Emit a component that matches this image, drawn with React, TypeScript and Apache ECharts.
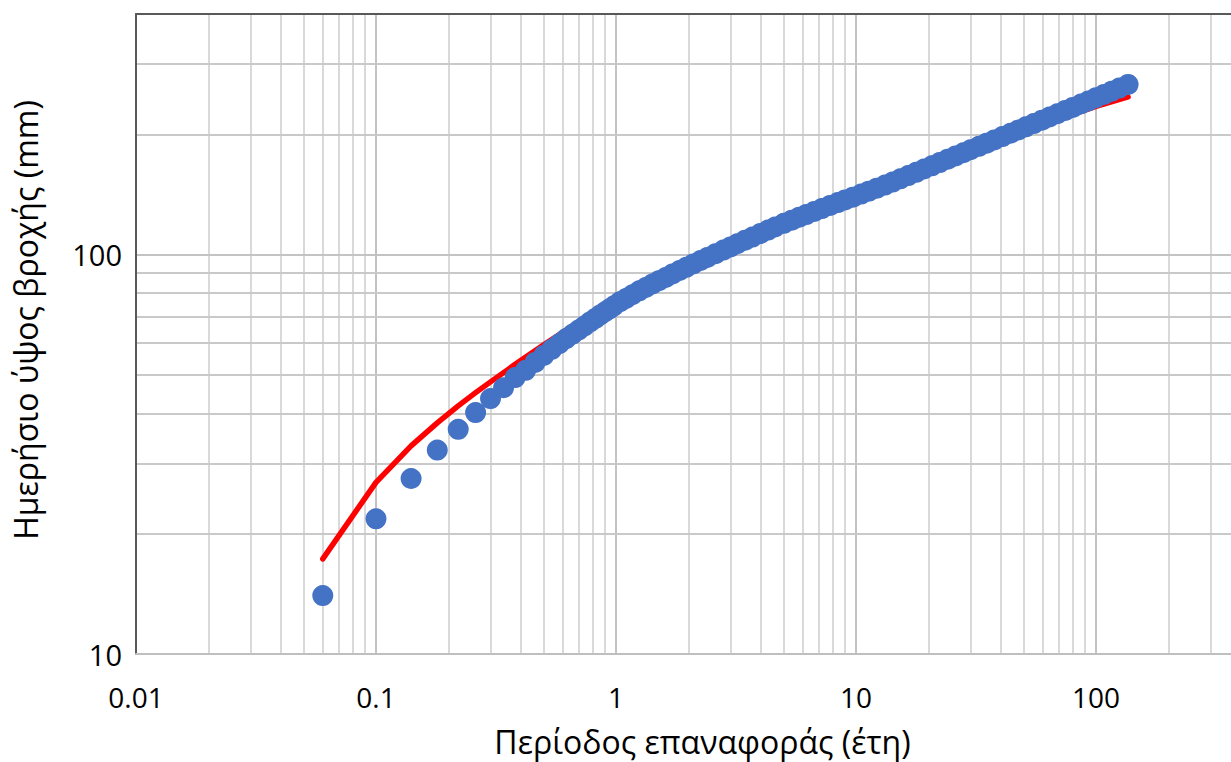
import React, { useEffect, useRef } from "react";
import * as echarts from "echarts";

// Observed daily rainfall (blue points): return period (years) and depth (mm)
const returnPeriods = [
  0.06, 0.1, 0.14, 0.18, 0.22, 0.26, 0.3, 0.34, 0.38, 0.42, 0.46, 0.5, 0.54, 0.58, 0.62, 0.66,
  0.7, 0.74, 0.78, 0.82, 0.86, 0.9, 0.94, 0.98, 1.04, 1.1, 1.17, 1.25, 1.33, 1.42, 1.51, 1.61,
  1.72, 1.84, 1.96, 2.1, 2.25, 2.4, 2.6, 2.8, 3.0, 3.2, 3.45, 3.7, 4.0, 4.3, 4.6, 5.0, 5.4, 5.8,
  6.2, 6.7, 7.2, 7.8, 8.4, 9.0, 9.7, 10.5, 11.3, 12.2, 13.2, 14.2, 15.3, 16.5, 17.8, 19.2, 20.7,
  22.3, 24.1, 26, 28, 30, 32.5, 35, 37.7, 40.7, 44, 47.5, 51, 55, 59.5, 64, 69, 74.5, 80, 86.5,
  93, 100, 108, 116, 125, 136,
];
const observedRainfall = [
  14.0, 21.8, 27.5, 32.4, 36.5, 40.2, 43.6, 46.4, 49.2, 51.3, 53.7, 55.9, 57.9, 59.8, 61.6, 63.2,
  64.8, 66.3, 67.8, 69.2, 70.6, 71.9, 73.1, 74.4, 76.2, 77.6, 79.3, 81.1, 82.7, 84.4, 86.0, 87.6,
  89.4, 91.2, 92.9, 94.7, 96.6, 98.3, 100.5, 102.6, 104.5, 106.4, 108.6, 110.6, 112.9, 115.1,
  117.2, 119.7, 121.9, 124.0, 125.9, 128.2, 130.3, 132.7, 134.9, 137.0, 139.2, 141.7, 144.1,
  146.6, 149.2, 151.8, 154.7, 157.6, 160.6, 163.7, 166.7, 169.9, 173.2, 176.5, 179.8, 182.9,
  186.6, 190.0, 193.6, 197.3, 201.2, 205.1, 208.7, 212.7, 216.9, 220.9, 225.1, 229.4, 233.5,
  238.1, 242.4, 246.9, 251.6, 256.1, 261.0, 266.5,
];

// Fitted distribution (red line)
const fitPeriods = [0.06, 0.1, 0.14, 0.18, 0.22, 0.26, 0.3, 0.38, 0.5, 0.7, 1, 2, 5, 10, 20, 50, 100, 136];
const fittedRainfall = [17.3, 26.9, 33.2, 37.9, 41.8, 45.1, 48.0, 53.1, 59.4, 67.9, 76.6, 93.5, 118.5, 140.5, 166, 204, 235, 248];

// Grid line positions (log axes)
const xMajorTicks = [0.1, 1, 10, 100];
const xMinorTicks = [
  0.02, 0.03, 0.04, 0.05, 0.06, 0.07, 0.08, 0.09,
  0.2, 0.3, 0.4, 0.5, 0.6, 0.7, 0.8, 0.9,
  2, 3, 4, 5, 6, 7, 8, 9,
  20, 30, 40, 50, 60, 70, 80, 90,
  200, 300,
];
const yMajorTicks = [100];
const yMinorTicks = [20, 30, 40, 50, 60, 70, 80, 90, 200, 300];

const X_MIN = 0.01;
const X_MAX = 365;
const Y_MIN = 10;
const Y_MAX = 400;

const X_TITLE = "Περίοδος επαναφοράς (έτη)";
const Y_TITLE = "Ημερήσιο ύψος βροχής (mm)";

const FONT = "'Open Sans', 'Noto Sans', 'DejaVu Sans', sans-serif";

const fmt = (v: number) => String(parseFloat(Number(v).toPrecision(6)));

export default function App() {
  const ref = useRef<HTMLDivElement>(null);

  useEffect(() => {
    if (!ref.current) return;
    const chart = echarts.init(ref.current, undefined, { renderer: "svg" });

    const gridLines = [
      ...xMinorTicks.map((v) => ({ xAxis: v, lineStyle: { color: "#d9d9d9", width: 2, type: "solid" } })),
      ...xMajorTicks.map((v) => ({ xAxis: v, lineStyle: { color: "#c3c3c3", width: 2, type: "solid" } })),
      ...yMinorTicks.map((v) => ({ yAxis: v, lineStyle: { color: "#c9c9c9", width: 2, type: "solid" } })),
      ...yMajorTicks.map((v) => ({ yAxis: v, lineStyle: { color: "#c3c3c3", width: 2, type: "solid" } })),
    ];

    chart.setOption({
      animation: false,
      backgroundColor: "#ffffff",
      grid: { left: 136, top: 14, right: 0, bottom: 107 },
      xAxis: [
        {
          type: "log",
          logBase: 10,
          min: X_MIN,
          max: X_MAX,
          z: 5,
          name: X_TITLE,
          nameLocation: "middle",
          nameGap: 71,
          nameTextStyle: { fontSize: 32, fontFamily: FONT, color: "#000", padding: [0, 0, 0, 38] },
          axisLine: { show: true, onZero: false, lineStyle: { color: "#bfbfbf", width: 2 } },
          axisTick: { show: false },
          splitLine: { show: false },
          minorSplitLine: { show: false },
          axisLabel: {
            show: true,
            margin: 29,
            fontSize: 28,
            fontFamily: FONT,
            color: "#000",
            showMaxLabel: false,
            formatter: fmt,
          },
        },
        {
          type: "log",
          logBase: 10,
          min: X_MIN,
          max: X_MAX,
          position: "top",
          z: 5,
          axisLine: { show: true, onZero: false, lineStyle: { color: "#595959", width: 2 } },
          axisTick: { show: false },
          axisLabel: { show: false },
          splitLine: { show: false },
        },
      ],
      yAxis: {
        type: "log",
        logBase: 10,
        min: Y_MIN,
        max: Y_MAX,
        z: 5,
        name: Y_TITLE,
        nameLocation: "middle",
        nameRotate: 90,
        nameGap: 95,
        nameTextStyle: { fontSize: 32, fontFamily: FONT, color: "#000", padding: [0, 0, 0, 28] },
        axisLine: { show: true, onZero: false, lineStyle: { color: "#595959", width: 2 } },
        axisTick: { show: false },
        splitLine: { show: false },
        axisLabel: {
          show: true,
          margin: 14,
          fontSize: 29,
          fontFamily: FONT,
          color: "#000",
          showMaxLabel: false,
          padding: [4, 0, 0, 0],
          formatter: fmt,
        },
      },
      series: [
        {
          name: "gridlines",
          type: "line",
          data: [],
          silent: true,
          markLine: {
            silent: true,
            z: 1,
            symbol: ["none", "none"],
            label: { show: false },
            emphasis: { disabled: true },
            data: gridLines,
          },
        },
        {
          name: "Θεωρητική κατανομή",
          type: "line",
          z: 2,
          data: fitPeriods.map((t, i) => [t, fittedRainfall[i]]),
          showSymbol: false,
          symbol: "none",
          lineStyle: { color: "#ff0000", width: 5.5, cap: "round", join: "round" },
          itemStyle: { color: "#ff0000" },
        },
        {
          name: "Παρατηρήσεις",
          type: "scatter",
          z: 3,
          data: returnPeriods.map((t, i) => [t, observedRainfall[i]]),
          symbol: "circle",
          symbolSize: 21,
          itemStyle: { color: "#4472c4", opacity: 1 },
        },
      ],
    });

    return () => chart.dispose();
  }, []);

  return (
    <div
      ref={ref}
      style={{ position: "absolute", left: 0, top: 0, width: 1231, height: 762, background: "#fff" }}
    />
  );
}
